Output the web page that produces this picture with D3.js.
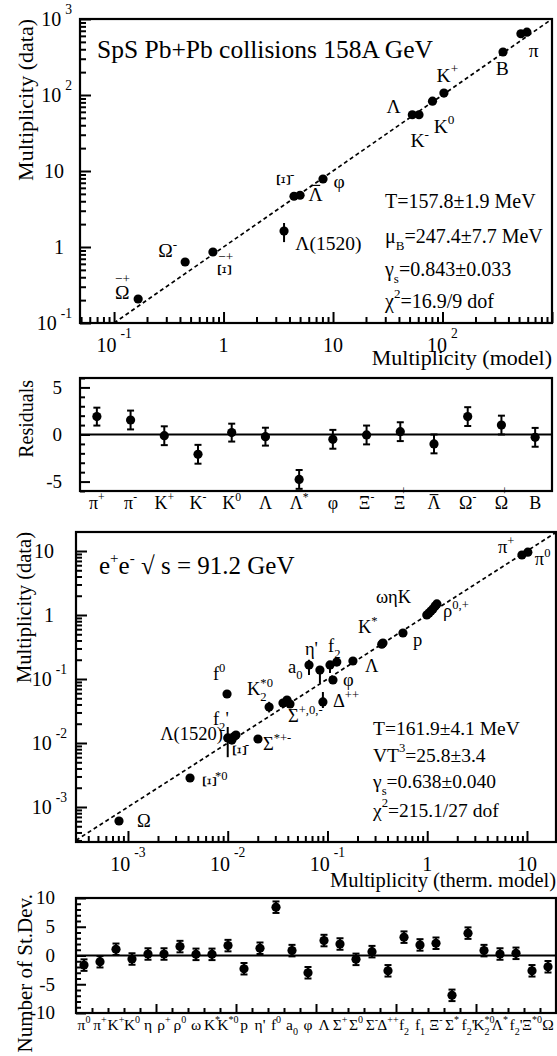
<!DOCTYPE html>
<html><head><meta charset="utf-8">
<script src="https://cdn.jsdelivr.net/npm/d3@7"></script>
<style>
body{margin:0;background:#fff;}
svg{display:block;font-family:"Liberation Serif","Times New Roman",serif;}
</style></head><body>
<script>
// ================= DATA =================
// SPS Pb+Pb 158A GeV
const spsNames = ["π+","π-","K+","K-","K0","Λ","Λ(1520)","φ","Ξ-","anti-Ξ+","anti-Λ","Ω-","anti-Ω+","B"];
const spsTickLabels = ["π^{+}","π^{-}","K^{+}","K^{-}","K^{0}","Λ","Λ^{*}","φ","Ξ^{-}","Ξ!{−+}","#{Λ}","Ω^{-}","Ω!{−+}","B"];
const spsModel = [520, 590, 103, 61, 81, 53, 3.57, 8.1, 4.4, 0.80, 5.0, 0.446, 0.166, 357];
const spsData  = [640, 670, 106, 55, 83, 55, 1.62, 7.85, 4.65, 0.86, 4.8, 0.635, 0.207, 368];
const spsErrLo = [null,null,null,null,null,null,1.16,null,null,null,null,null,null,null];
const spsErrHi = [null,null,null,null,null,null,2.07,null,null,null,null,null,null,null];
const spsResidual    = [1.9, 1.54, -0.13, -2.1, 0.2, -0.23, -4.77, -0.51, -0.05, 0.3, -1.0, 1.9, 1.0, -0.3];
const spsResidualErr = [0.95, 1.0, 1.0, 1.0, 0.95, 0.95, 1.0, 1.0, 1.0, 1.0, 1.0, 1.0, 1.0, 1.0];
const spsPointLabels = [
  {x:614, y:316, s:"π"}, {x:306, y:183, s:"B"}, {x:88.3, y:148, s:"K^{+}"},
  {x:83, y:31.6, s:"K^{0}"}, {x:51, y:20.7, s:"K^{-}"}, {x:30.8, y:58, s:"Λ"},
  {x:10.1, y:5.97, s:"φ"}, {x:5.96, y:4.03, s:"#{Λ}"}, {x:3.1, y:6.16, s:"~Ξ^{-}"},
  {x:4.53, y:0.914, s:"Λ(1520)"}, {x:0.895, y:0.403, s:"~Ξ!{−+}"},
  {x:0.253, y:0.738, s:"Ω^{-}"}, {x:0.102, y:0.207, s:"Ω!{−+}"}
];
const spsFitText = ["T=157.8±1.9 MeV","μ_{B}=247.4±7.7 MeV","γ_{s}=0.843±0.033","χ^{2}=16.9/9 dof"];

// e+e- sqrt(s)=91.2 GeV
const eeNames = ["π0","π+","K+","K0","η","ρ+","ρ0","ω","K*","K*0","p","η'","f0","a0","φ","Λ","Σ+","Σ0","Σ-","Δ++","f2","f1","Ξ-","Σ*","f2'","K2*0","Λ*","f2'b","Ξ*0","Ω"];
const eeTickLabels = ["π^{0}","π^{+}","K^{+}","K^{0}","η","ρ^{+}","ρ^{0}","ω","K^{*}","K^{*0}","p","η'","f^{0}","a_{0}","φ","Λ","Σ^{+}","Σ^{0}","Σ^{-}","Δ^{++}","f_{2}","f_{1}","Ξ^{-}","Σ^{*}","f_{2}'","K_{2}^{*0}","Λ^{*}","f_{2}'","Ξ^{*0}","Ω"];
const eeModel = [10.2, 8.9, 1.14, 1.09, 0.99, 1.2, 1.25, 1.04, 0.36, 0.35, 0.571, 0.084, 0.00984, 0.0653, 0.1135, 0.18, 0.0358, 0.0393, 0.0421, 0.090, 0.106, 0.124, 0.011, 0.0201, 0.0121, 0.026, 0.01, 0.0116, 0.00419, 0.000813];
const eeData  = [9.6, 8.66, 1.24, 1.155, 1.0, 1.38, 1.49, 1.07, 0.365, 0.35, 0.523, 0.138, 0.0583, 0.1655, 0.0964, 0.191, 0.0422, 0.047, 0.0407, 0.0438, 0.166, 0.184, 0.0111, 0.01155, 0.0133, 0.0365, 0.012, 0.0126, 0.00284, 0.000604];
const eeErrLo = [null,null,null,null,null,null,null,null,null,null,null,0.0866,0.053,0.1155,null,null,null,null,null,0.0352,0.124,null,null,null,null,0.030,0.006,null,null,null];
const eeErrHi = [null,null,null,null,null,null,null,null,null,null,null,0.16,0.064,0.2,null,null,null,null,null,0.0626,0.19,null,null,null,null,0.044,0.0178,null,null,null];
const eeResidual = [-1.67,-1.08,1.08,-0.61,0.26,0.26,1.55,0.2,0.2,1.72,-2.3,1.26,8.4,0.85,-3.0,2.6,2.0,-0.67,0.67,-2.66,3.19,1.84,2.13,-6.93,3.89,0.85,0.26,0.38,-2.66,-1.96];
const eeResidualErr = [1,1,1,1,1,1,1,1,1,1,1,1,1,1,1,1,1,1,1,1,1,1,1,1,1,1,1,1,1,1];
const eePointLabels = [
  {x:5.12, y:9.31, s:"π^{+}"}, {x:12.0, y:6.04, s:"π^{0}"}, {x:0.306, y:1.54, s:"ωηK"},
  {x:1.44, y:0.931, s:"ρ^{0,+}"}, {x:0.202, y:0.523, s:"K^{*}"}, {x:0.719, y:0.328, s:"p"},
  {x:0.238, y:0.1286, s:"Λ"}, {x:0.0594, y:0.237, s:"η'"}, {x:0.1012, y:0.264, s:"f_{2}"},
  {x:0.0402, y:0.124, s:"a_{0}"}, {x:0.143, y:0.0778, s:"φ"}, {x:0.1135, y:0.0365, s:"Δ^{++}"},
  {x:0.0402, y:0.0213, s:"Σ^{+,0,-}"}, {x:0.02255, y:0.00778, s:"Σ^{*+-}"},
  {x:0.00711, y:0.0964, s:"f^{0}"}, {x:0.0156, y:0.0562, s:"K_{2}^{*0}"},
  {x:0.00711, y:0.0191, s:"f_{2}'"}, {x:0.00895, y:0.01114, s:"Λ(1520)", anchor:"end"},
  {x:0.0113, y:0.00604, s:"~Ξ^{-}"}, {x:0.00565, y:0.00198, s:"~Ξ^{*0}"},
  {x:0.00123, y:0.000487, s:"Ω"}
];
const eeFitText = ["T=161.9±4.1 MeV","VT^{3}=25.8±3.4","γ_{s}=0.638±0.040","χ^{2}=215.1/27 dof"];

// tick labels
const p1XTicks = [0.1, 1, 10, 100];
const p1YTicks = [0.1, 1, 10, 100, 1000];
const p2YTicks = [-5, 0, 5];
const p3XTicks = [0.001, 0.01, 0.1, 1, 10];
const p3YTicks = [0.001, 0.01, 0.1, 1, 10];
const p4YTicks = [-10, -5, 0, 5, 10];

// ================= LAYOUT =================
const W = 557, H = 1056;
const P1 = {x0:80, x1:552, y0:19, y1:323};
const P2 = {x0:80, x1:552, y0:378, y1:491};
const P3 = {x0:76, x1:556, y0:532, y1:842};
const P4 = {x0:76, x1:556, y0:898, y1:1013};

const svg = d3.select("body").append("svg").attr("width", W).attr("height", H);

// ---------- rich text helper (sup/sub/overbar/rotated glyph) ----------
function parseRich(s) {
  const parts = []; let i = 0, buf = "";
  const flush = () => { if (buf) { parts.push([buf, "n"]); buf = ""; } };
  while (i < s.length) {
    const c = s[i];
    if ((c === "^" || c === "_" || c === "!" || c === "#") && s[i+1] === "{") {
      flush();
      const j = s.indexOf("}", i);
      const inner = s.slice(i+2, j);
      let kind = c === "^" ? "sup" : c === "_" ? "sub" : c === "!" ? "over" : "ovl";
      if (kind === "sup" && parts.length && parts[parts.length-1][1] === "sub") kind = "supb";
      parts.push([inner, kind]);
      i = j + 1;
    } else if (c === "~") { flush(); parts.push([s[i+1], "rot"]); i += 2; }
    else { buf += c; i++; }
  }
  flush();
  return parts;
}
function rich(g, x, y, s, fs, anchor, cfg) {
  cfg = Object.assign({supScale:0.68, supRaise:0.45, subDrop:0.3}, cfg || {});
  const t = g.append("text").attr("x", x).attr("y", y).attr("font-size", fs)
    .attr("text-anchor", anchor || "start").attr("fill", "#000");
  let cur = 0, prevLen = 0;
  const bars = [];
  parseRich(s).forEach(([txt, kind]) => {
    let size = fs, off = 0, dx = 0;
    if (kind === "sup") { size = fs*cfg.supScale; off = -fs*cfg.supRaise; }
    else if (kind === "sub") { size = fs*cfg.supScale; off = fs*cfg.subDrop; }
    else if (kind === "supb") { size = fs*cfg.supScale; off = -fs*cfg.supRaise; dx = -prevLen; }
    else if (kind === "over") { size = fs*cfg.supScale; off = -fs*0.8; dx = -prevLen; }
    else if (kind === "rot") { off = -fs*0.68; }
    const ts = t.append("tspan").attr("font-size", size).attr("dy", off - cur).text(txt);
    if (dx) ts.attr("dx", dx);
    if (kind === "rot") ts.attr("rotate", 90);
    if (kind === "ovl") bars.push(ts);
    cur = off;
    prevLen = ts.node().getComputedTextLength();
  });
  bars.forEach(ts => {
    const bb = ts.node().getBBox();
    g.append("line").attr("x1", bb.x + fs*0.12).attr("x2", bb.x + bb.width - fs*0.12)
      .attr("y1", y - fs*0.8).attr("y2", y - fs*0.8).attr("stroke", "#000").attr("stroke-width", fs*0.06);
  });
  return t;
}
function powLabel(v) {
  const e = Math.round(Math.log10(v));
  if (e === 0) return "1";
  if (e === 1) return "10";
  return "10\u2009^{" + e + "}";
}
function logVals(scale) {
  const [a, b] = scale.domain();
  const majors = [], minors = [];
  for (let k = Math.floor(Math.log10(a)); k <= Math.ceil(Math.log10(b)); k++)
    for (let m = 1; m < 10; m++) {
      const v = m * Math.pow(10, k);
      if (v >= a*0.9999 && v <= b*1.0001) (m === 1 ? majors : minors).push(v);
    }
  return {majors, minors};
}
function tickSet(g, axisFn, scale, values, len, tx, ty) {
  const a = axisFn(scale).tickValues(values).tickSize(-len).tickFormat("");
  const gg = g.append("g").attr("transform", `translate(${tx},${ty})`).call(a);
  gg.select(".domain").remove();
  gg.selectAll("text").remove();
  gg.selectAll("line").attr("stroke", "#000").attr("stroke-width", 2);
}
function frame(P) {
  svg.append("rect").attr("x", P.x0).attr("y", P.y0).attr("width", P.x1-P.x0).attr("height", P.y1-P.y0)
    .attr("fill", "none").attr("stroke", "#000").attr("stroke-width", 2.2);
}
function yTitle(text, x, y, fs) {
  svg.append("text").attr("transform", `translate(${x},${y}) rotate(-90)`).attr("text-anchor", "end")
    .attr("font-size", fs).text(text);
}

// ================= PANEL 1 =================
const x1 = d3.scaleLog().domain([Math.pow(10,-1.311), 1000]).range([P1.x0, P1.x1]);
const y1 = d3.scaleLog().domain([0.1, 1000]).range([P1.y1, P1.y0]);
function scatterPanel(P, xs, ys, model, data, errLo, errHi, labels, xT, yT, cfg) {
  const g = svg.append("g");
  const lo = Math.max(xs.domain()[0], ys.domain()[0]), hi = Math.min(xs.domain()[1], ys.domain()[1]);
  g.append("line").attr("x1", xs(lo)).attr("y1", ys(lo)).attr("x2", xs(hi)).attr("y2", ys(hi))
    .attr("stroke", "#000").attr("stroke-width", 1.7).attr("stroke-dasharray", "4,3");
  const lx = logVals(xs), ly = logVals(ys);
  tickSet(g, d3.axisBottom, xs, lx.minors, 6, 0, P.y1);
  tickSet(g, d3.axisBottom, xs, lx.majors, 11, 0, P.y1);
  tickSet(g, d3.axisLeft, ys, ly.minors, 6, P.x0, 0);
  tickSet(g, d3.axisLeft, ys, ly.majors, 11, P.x0, 0);
  frame(P);
  const idx = d3.range(model.length);
  g.selectAll(".eb").data(idx.filter(i => errLo[i] != null)).enter().append("line")
    .attr("x1", i => xs(model[i])).attr("x2", i => xs(model[i]))
    .attr("y1", i => ys(errLo[i])).attr("y2", i => ys(errHi[i]))
    .attr("stroke", "#000").attr("stroke-width", 2);
  g.selectAll(".pt").data(idx).enter().append("circle")
    .attr("cx", i => xs(model[i])).attr("cy", i => ys(data[i])).attr("r", 4.6).attr("fill", "#000");
  labels.forEach(L => rich(g, xs(L.x), ys(L.y), L.s, cfg.labelFs, L.anchor || "start"));
  xT.forEach(v => rich(g, xs(v), P.y1 + 29, powLabel(v), 20, "middle", {supRaise:0.7}));
  yT.forEach(v => {
    const s = powLabel(v);
    const hasSup = s.indexOf("^") >= 0;
    rich(g, P.x0 - (hasSup ? cfg.ySupGap : cfg.yPlainGap), ys(v) + 6.8, s, 20, "end", {supRaise:0.6});
  });
  return g;
}
const g1 = scatterPanel(P1, x1, y1, spsModel, spsData, spsErrLo, spsErrHi, spsPointLabels, p1XTicks, p1YTicks,
  {labelFs:19.5, ySupGap:8, yPlainGap:16});
g1.append("text").attr("x", 97).attr("y", 58).attr("font-size", 25.5).text("SpS Pb+Pb collisions 158A GeV");
spsFitText.forEach((s, i) => rich(g1, 385, [208, 243, 276, 308][i], s, 20, "start", {supScale:0.65, subDrop:0.35, supRaise:0.5}));
yTitle("Multiplicity (data)", 33, 19, 22);
svg.append("text").attr("x", 552).attr("y", 365).attr("text-anchor", "end").attr("font-size", 22).text("Multiplicity (model)");

// ================= residual panels =================
function residualPanel(P, names, labels, vals, errs, yDom, yMajor, yMinor, xMajorEvery, labelFs, labelY, yLabelFs, yLabelGap, capW) {
  const g = svg.append("g");
  const xb = d3.scaleBand().domain(names).range([P.x0, P.x1]);
  const xi = d3.scaleLinear().domain([0, names.length]).range([P.x0, P.x1]);
  const ys = d3.scaleLinear().domain(yDom).range([P.y1, P.y0]);
  const inner = d3.range(1, names.length);
  tickSet(g, d3.axisBottom, xi, inner.filter(k => k % xMajorEvery !== 0), xMajorEvery > 1 ? 5 : 9, 0, P.y1);
  if (xMajorEvery > 1) tickSet(g, d3.axisBottom, xi, inner.filter(k => k % xMajorEvery === 0), 9, 0, P.y1);
  tickSet(g, d3.axisLeft, ys, yMinor, 5, P.x0, 0);
  tickSet(g, d3.axisLeft, ys, yMajor, 10, P.x0, 0);
  g.append("line").attr("x1", P.x0).attr("x2", P.x1).attr("y1", ys(0)).attr("y2", ys(0))
    .attr("stroke", "#000").attr("stroke-width", 2);
  frame(P);
  const cx = n => xb(n) + xb.bandwidth()/2;
  const idx = d3.range(names.length);
  idx.forEach(i => {
    const x = cx(names[i]);
    const yl = ys(vals[i] - errs[i]), yh = ys(vals[i] + errs[i]);
    g.append("line").attr("x1", x).attr("x2", x).attr("y1", yl).attr("y2", yh).attr("stroke", "#000").attr("stroke-width", 2);
    [yl, yh].forEach(yy => g.append("line").attr("x1", x - capW).attr("x2", x + capW).attr("y1", yy).attr("y2", yy)
      .attr("stroke", "#000").attr("stroke-width", 2));
  });
  g.selectAll(".pt").data(idx).enter().append("circle")
    .attr("cx", i => cx(names[i])).attr("cy", i => ys(vals[i])).attr("r", 4.6).attr("fill", "#000");
  idx.forEach(i => rich(g, cx(names[i]), labelY, labels[i], labelFs, "middle", {supScale:0.65, supRaise:0.42, subDrop:0.3}));
  yMajor.forEach(v => g.append("text").attr("x", P.x0 - yLabelGap).attr("y", ys(v) + yLabelFs*0.34)
    .attr("text-anchor", "end").attr("font-size", yLabelFs).text(String(v)));
  return g;
}
residualPanel(P2, spsNames, spsTickLabels, spsResidual, spsResidualErr, [-6, 6], p2YTicks,
  d3.range(-6, 7).filter(v => v % 5 !== 0), 1, 18, 509, 19, 18, 3.5);
yTitle("Residuals", 33, 380, 20);

// ================= PANEL 3 =================
const x3 = d3.scaleLog().domain([Math.pow(10,-3.521), Math.pow(10,1.291)]).range([P3.x0, P3.x1]);
const y3 = d3.scaleLog().domain([Math.pow(10,-3.547), Math.pow(10,1.297)]).range([P3.y1, P3.y0]);
const g3 = scatterPanel(P3, x3, y3, eeModel, eeData, eeErrLo, eeErrHi, eePointLabels, p3XTicks, p3YTicks,
  {labelFs:18.5, ySupGap:9, yPlainGap:22});
rich(g3, 99, 574, "e^{+}e^{-} √ s = 91.2 GeV", 25, "start", {supScale:0.6, supRaise:0.45});
eeFitText.forEach((s, i) => rich(g3, 373, [735, 762, 788, 817][i], s, 19.5, "start", {supScale:0.65, subDrop:0.35, supRaise:0.5}));
yTitle("Multiplicity (data)", 31, 532, 20.5);
svg.append("text").attr("x", 556).attr("y", 887).attr("text-anchor", "end").attr("font-size", 20.5).text("Multiplicity (therm. model)");

// ================= PANEL 4 =================
residualPanel(P4, eeNames, eeTickLabels, eeResidual, eeResidualErr, [-10, 10], p4YTicks,
  d3.range(-10, 11).filter(v => v % 5 !== 0), 5, 15.5, 1030, 19, 21, 3.5);
yTitle("Number of St.Dev.", 32, 894, 21);
</script>
</body></html>
